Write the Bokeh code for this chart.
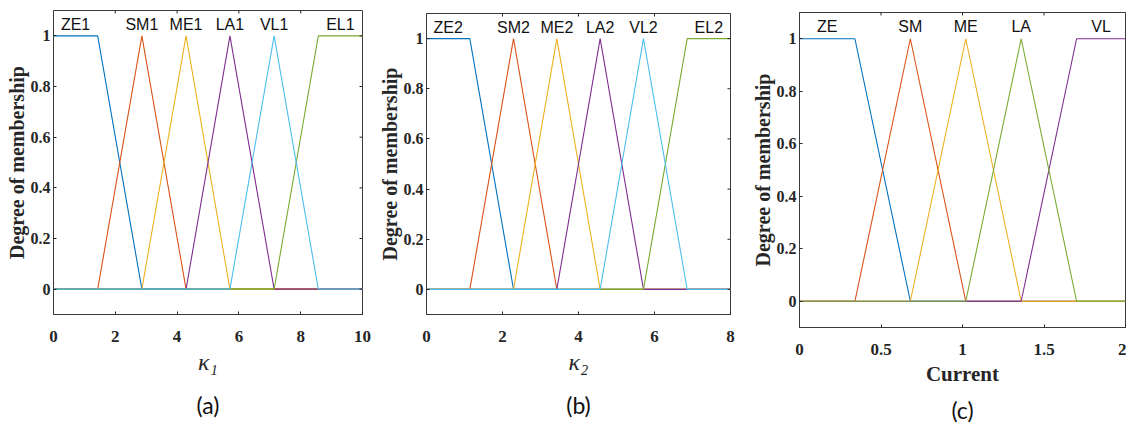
from bokeh.plotting import figure
from bokeh.models import FixedTicker, Title, Range1d, ColumnDataSource
from bokeh.layouts import row
from bokeh.embed import file_html
from bokeh.resources import INLINE
from bokeh.core.properties import value

# ---------------- data ----------------
# Panel (a): kappa_1 membership functions (trapmf [a,b,c,d] / trimf [a,b,c]), MATLAB plotting order
k1_names = ["ZE1", "SM1", "ME1", "LA1", "EL1", "VL1"]
k1_params = [[0, 0, 1.43, 2.86], [1.43, 2.86, 4.29], [2.86, 4.29, 5.71],
             [4.29, 5.71, 7.14], [7.14, 8.57, 10, 10], [5.71, 7.14, 8.57]]
k1_range = [0, 10]
k1_ticks = [0, 2, 4, 6, 8, 10]

# Panel (b): kappa_2
k2_names = ["ZE2", "SM2", "ME2", "LA2", "EL2", "VL2"]
k2_params = [[0, 0, 1.14, 2.29], [1.14, 2.29, 3.43], [2.29, 3.43, 4.57],
             [3.43, 4.57, 5.71], [5.71, 6.86, 8, 8], [4.57, 5.71, 6.86]]
k2_range = [0, 8]
k2_ticks = [0, 2, 4, 6, 8]

# Panel (c): Current
cur_names = ["ZE", "SM", "ME", "VL", "LA"]
cur_params = [[0, 0, 0.34, 0.68], [0.34, 0.68, 1.02], [0.68, 1.02, 1.36],
              [1.36, 1.70, 2, 2], [1.02, 1.36, 1.70]]
cur_range = [0, 2]
cur_ticks = [0, 0.5, 1, 1.5, 2]

y_range = [-0.1, 1.1]
y_ticks = [0, 0.2, 0.4, 0.6, 0.8, 1]
y_label = "Degree of membership"
captions = ["(a)", "(b)", "(c)"]

colors = ["#0072BD", "#D95319", "#EDB120", "#7E2F8E", "#77AC30", "#4DBEEE"]
AX = "#262626"
FRAME = "#3a3a3a"
SERIF = "Liberation Serif"
TICK = 3  # px


def trap(p):
    return p if len(p) == 4 else [p[0], p[1], p[1], p[2]]


def mf(p, x):
    a, b, c, d = trap(p)
    if b <= x <= c:
        return 1.0
    if x <= a or x >= d:
        return 0.0
    if x < b:
        return (x - a) / (b - a)
    return (d - x) / (d - c)


def panel(names, params, xr, xticks, xlabel, xlabel_style, xlabel_size, caption, width, borders,
          xl_standoff, cap_standoff, right_ticks=True):
    left, right, top, bottom = borders
    fw = width - left - right
    fh = 430 - top - bottom
    p = figure(width=width, height=430, x_range=Range1d(*xr), y_range=Range1d(*y_range),
               output_backend="svg", toolbar_location=None,
               min_border_left=left, min_border_right=right,
               min_border_top=top, min_border_bottom=bottom)
    try:
        p.frame_align = False
    except Exception:
        pass
    p.grid.visible = False
    p.outline_line_color = FRAME
    p.outline_line_width = 1
    p.background_fill_color = "white"
    p.border_fill_color = "white"

    for i, prm in enumerate(params):
        xs = sorted(set([xr[0], xr[1]] + list(prm)))
        ys = [mf(prm, x) for x in xs]
        p.line(xs, ys, line_color=colors[i], line_width=1.1)

    # inward ticks on the top and right edges (MATLAB box style)
    dy = (y_range[1] - y_range[0]) * TICK / fh
    dx = (xr[1] - xr[0]) * TICK / fw
    inner_x = [t for t in xticks if xr[0] < t < xr[1]]
    p.segment(x0=inner_x, y0=[y_range[1]] * len(inner_x), x1=inner_x,
              y1=[y_range[1] - dy] * len(inner_x), line_color=AX, line_width=1)
    if right_ticks:
        p.segment(x0=[xr[1]] * len(y_ticks), y0=y_ticks, x1=[xr[1] - dx] * len(y_ticks),
                  y1=y_ticks, line_color=AX, line_width=1)

    lx, ly = [], []
    for prm in params:
        a, b, c, d = trap(prm)
        lx.append((b + c) / 2)
        ly.append(1.045)
    src = ColumnDataSource(dict(x=lx, y=ly, t=names))
    p.text(x="x", y="y", text="t", source=src, text_font=value("Liberation Sans"),
           text_font_size="16px", text_align="center", text_baseline="middle",
           text_color="#111111")

    xa = p.xaxis[0]
    ya = p.yaxis[0]
    xa.ticker = FixedTicker(ticks=xticks)
    ya.ticker = FixedTicker(ticks=y_ticks)
    xa.major_label_overrides = {0: "0", 1: "1", 2: "2"} if xr[1] == 2 else {}
    ya.major_label_overrides = {0: "0", 1: "1"}
    for ax in (xa, ya):
        ax.major_tick_in = TICK
        ax.major_tick_out = 0
        ax.minor_tick_line_color = None
        ax.axis_line_color = FRAME
        ax.major_tick_line_color = AX
        ax.major_label_text_font = SERIF
        ax.major_label_text_font_style = "bold"
        ax.major_label_text_font_size = "17px"
        ax.major_label_text_color = AX
        ax.axis_label_text_font = SERIF
        ax.axis_label_text_color = AX
    ya.major_label_text_font_size = "16px"
    ya.axis_label = y_label
    ya.axis_label_text_font_style = "bold"
    ya.axis_label_text_font_size = "20px"
    ya.axis_label_standoff = 0
    ya.major_label_standoff = 3
    xa.axis_label = xlabel
    xa.axis_label_text_font_style = xlabel_style
    xa.axis_label_text_font_size = xlabel_size
    xa.axis_label_standoff = xl_standoff
    xa.major_label_standoff = 16

    p.add_layout(Title(text=caption, align="center", text_font="Lato", text_font_size="23px",
                       text_font_style="normal", text_color="#111111", standoff=cap_standoff), "below")
    return p


pa = panel(k1_names, k1_params, k1_range, k1_ticks, "κ₁", "italic", "24px", captions[0], 375,
           (53, 13, 10, 116), 4, 23)
pb = panel(k2_names, k2_params, k2_range, k2_ticks, "κ₂", "italic", "24px", captions[1], 373,
           (51, 18, 13, 115), 4, 23)
pc = panel(cur_names, cur_params, cur_range, cur_ticks, "Current", "bold", "21px", captions[2], 378,
           (50, 1, 12, 103), 4, 11, right_ticks=False)

layout = row(pa, pb, pc)
open("out.html", "w").write(file_html(layout, INLINE))
